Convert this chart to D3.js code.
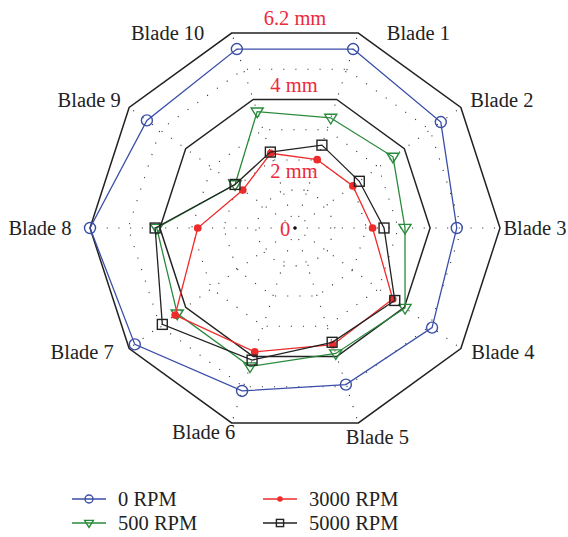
<!DOCTYPE html>
<html>
<head>
<meta charset="utf-8">
<script src="https://cdn.jsdelivr.net/npm/d3@7"></script>
<style>
  html, body { margin: 0; padding: 0; background: #fff; }
  svg { display: block; }
  text { font-family: "Liberation Serif", "DejaVu Serif", serif; }
</style>
</head>
<body>
<svg id="chart" width="568" height="537"></svg>
<script>
// Blade tip clearance (mm) per blade at four rotor speeds
const blades = ["Blade 1", "Blade 2", "Blade 3", "Blade 4", "Blade 5",
                "Blade 6", "Blade 7", "Blade 8", "Blade 9", "Blade 10"];
const seriesNames = ["0 RPM", "500 RPM", "3000 RPM", "5000 RPM"];
const rpm0    = [5.67, 5.42, 4.84, 5.08, 4.93, 5.14, 5.98, 6.20, 5.51, 5.67];
const rpm500  = [3.39, 3.56, 3.21, 4.03, 3.90, 4.33, 4.33, 4.10, 2.08, 3.60];
const rpm3000 = [2.01, 2.00, 2.19, 3.55, 3.61, 3.85, 4.41, 2.81, 1.78, 2.22];
const rpm5000 = [2.49, 2.25, 2.55, 3.63, 3.53, 4.12, 4.91, 4.15, 2.08, 2.26];
const ringValues = [4, 6.2];
const tickValues = [0, 2, 4, 6.2];
const tickLabels = ["0", "2 mm", "4 mm", "6.2 mm"];
const dottedRings = [1, 2, 3, 5];

const svg = d3.select("#chart");
const cx = 295, cy = 228;
const r = d3.scaleLinear().domain([0, 6.2]).range([8, 205]);

// Blade 1 sits at 72° and blades run clockwise, 36° apart
const angle = d3.scaleLinear().domain([0, blades.length]).range([72, 72 - 360]);
const rad = i => angle(i) * Math.PI / 180;
const px = (i, v) => cx + r(v) * Math.cos(rad(i));
const py = (i, v) => cy - r(v) * Math.sin(rad(i));
const poly = v => blades.map((_, i) => [px(i, v), py(i, v)]);
const closedLine = d3.line().curve(d3.curveLinearClosed);

const g = svg.append("g");

// dotted web: spokes and light rings
g.selectAll("line.spoke").data(blades).join("line")
  .attr("class", "spoke")
  .attr("x1", cx).attr("y1", cy)
  .attr("x2", (d, i) => px(i, 6.2)).attr("y2", (d, i) => py(i, 6.2))
  .attr("stroke", "#333").attr("stroke-width", 1.1)
  .attr("stroke-dasharray", "1.1,10.6");

g.selectAll("path.dring").data(dottedRings).join("path")
  .attr("class", "dring")
  .attr("d", v => closedLine(poly(v)))
  .attr("fill", "none").attr("stroke", "#333").attr("stroke-width", 1.1)
  .attr("stroke-dasharray", "1.1,11");

// solid grid rings
g.selectAll("path.ring").data(ringValues).join("path")
  .attr("class", "ring")
  .attr("d", v => closedLine(poly(v)))
  .attr("fill", "none").attr("stroke", "#222").attr("stroke-width", 1.5);

g.append("circle").attr("cx", cx).attr("cy", cy).attr("r", 1.8).attr("fill", "#111");

// radial tick labels
const tickPos = [
  { x: cx - 10, y: cy + 8 },
  { x: cx - 1,  y: cy - 50 },
  { x: cx - 1,  y: py(0, 4) - 8 },
  { x: cx,      y: py(0, 6.2) - 8 }
];
g.selectAll("text.tick").data(tickValues).join("text")
  .attr("class", "tick")
  .attr("x", (d, i) => tickPos[i].x).attr("y", (d, i) => tickPos[i].y)
  .attr("text-anchor", "middle")
  .attr("font-size", 20.5).attr("fill", "#ec2a3c")
  .text((d, i) => tickLabels[i]);

// blade labels, offset from the outer vertices
const labelNudge = [[60, 0], [41, -7], [35, 0], [42, 4], [19, 14],
                    [-28, 9], [-47, 4], [-50, 0], [-40, -7], [-64, 0]];
g.selectAll("text.blade").data(blades).join("text")
  .attr("class", "blade")
  .attr("x", (d, i) => px(i, 6.2) + labelNudge[i][0])
  .attr("y", (d, i) => py(i, 6.2) + labelNudge[i][1])
  .attr("dy", "0.33em")
  .attr("text-anchor", "middle")
  .attr("font-size", 20.5).attr("fill", "#222")
  .text(d => d);

// series
const colors = ["#3a4ea8", "#2a8a3c", "#ee2b2b", "#222222"];
const values = [rpm0, rpm500, rpm3000, rpm5000];
const shapes = ["circle", "triangle", "dot", "square"];

function marker(sel, shape, color, size) {
  if (shape === "circle") {
    sel.append("circle").attr("r", size * 0.5)
      .attr("fill", "none").attr("stroke", color).attr("stroke-width", 1.4);
  } else if (shape === "dot") {
    sel.append("circle").attr("r", size * 0.35).attr("fill", color);
  } else if (shape === "square") {
    sel.append("rect").attr("x", -size * 0.45).attr("y", -size * 0.45)
      .attr("width", size * 0.9).attr("height", size * 0.9)
      .attr("fill", "none").attr("stroke", color).attr("stroke-width", 1.4);
  } else {
    const h = size * 0.55;
    sel.append("path")
      .attr("d", `M${-h},${-h * 0.6}L${h},${-h * 0.6}L0,${h * 1.0}Z`)
      .attr("fill", "none").attr("stroke", color).attr("stroke-width", 1.4);
  }
}

values.forEach((vals, s) => {
  const pts = vals.map((v, i) => [px(i, v), py(i, v)]);
  g.append("path").attr("d", closedLine(pts))
    .attr("fill", "none").attr("stroke", colors[s]).attr("stroke-width", 1.3);
  pts.forEach(p => {
    const m = g.append("g").attr("transform", `translate(${p[0]},${p[1]})`);
    marker(m, shapes[s], colors[s], 11);
  });
});

// legend
const legendPos = [{ x: 72, y: 499 }, { x: 72, y: 523 }, { x: 263, y: 499 }, { x: 263, y: 523 }];
seriesNames.forEach((name, s) => {
  const lg = svg.append("g").attr("transform", `translate(${legendPos[s].x},${legendPos[s].y})`);
  lg.append("line").attr("x1", 0).attr("x2", 34).attr("y1", 0).attr("y2", 0)
    .attr("stroke", colors[s]).attr("stroke-width", 1.3);
  const m = lg.append("g").attr("transform", "translate(17,0)");
  marker(m, shapes[s], colors[s], 8);
  lg.append("text").attr("x", 46).attr("y", 0).attr("dy", "0.33em")
    .attr("font-size", 20.5).attr("fill", "#222").text(name);
});
</script>
</body>
</html>
